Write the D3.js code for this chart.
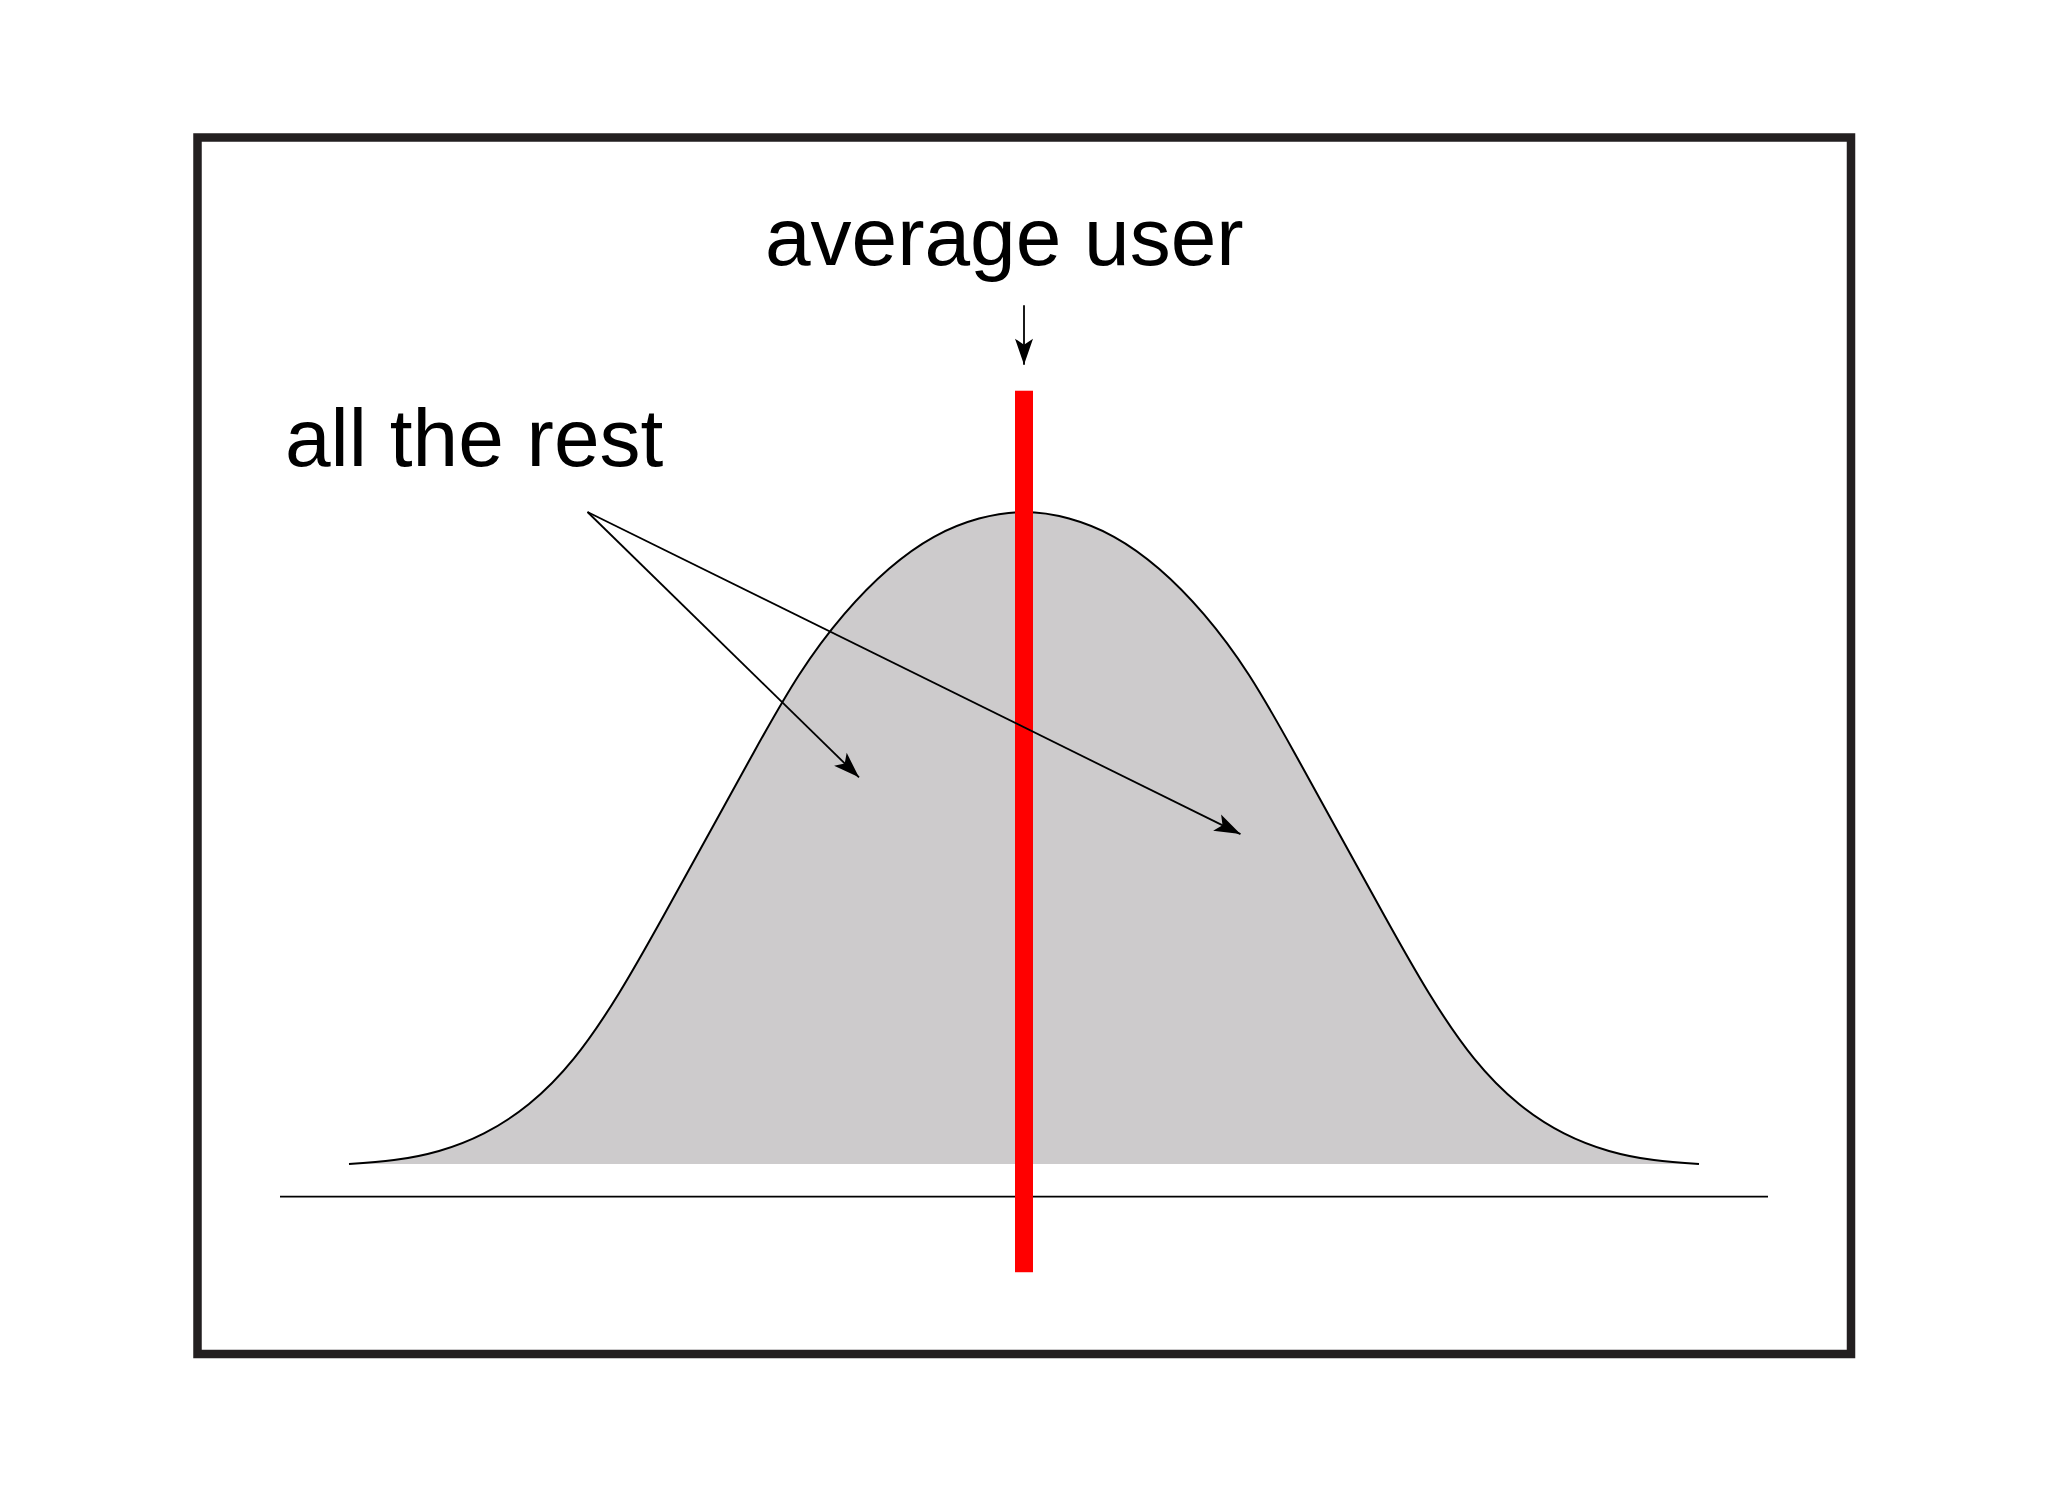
<!DOCTYPE html>
<html>
<head>
<meta charset="utf-8">
<script src="https://cdn.jsdelivr.net/npm/d3@7"></script>
<style>
  html, body { margin: 0; padding: 0; background: #ffffff; }
  svg { display: block; }
  text { font-family: "Liberation Sans", Arial, Helvetica, sans-serif; }
</style>
</head>
<body>
<svg id="chart" width="2048" height="1493"></svg>
<script>
// ---- data ----
const curveX = [-4.5, -4.2, -3.9, -3.6, -3.3, -3.0, -2.7, -2.4, -2.1, -1.8, -1.5, -1.2, -0.9, -0.6, -0.3, 0,
                 0.3, 0.6, 0.9, 1.2, 1.5, 1.8, 2.1, 2.4, 2.7, 3.0, 3.3, 3.6, 3.9, 4.2, 4.5];
const curveY = [0, 0.006, 0.020, 0.047, 0.092, 0.162, 0.262, 0.382, 0.507, 0.632, 0.75, 0.843, 0.913, 0.962, 0.99, 1.0,
                 0.99, 0.962, 0.913, 0.843, 0.75, 0.632, 0.507, 0.382, 0.262, 0.162, 0.092, 0.047, 0.020, 0.006, 0];
const averageX = 0;                 // position of the "average user" marker
const markerRange = [-0.166, 1.186]; // vertical extent of red bar in value units
const axisRange = [-4.96, 4.96];    // horizontal extent of the base line
const axisLevel = -0.05;            // base line level in value units
const labels = ["average user", "all the rest"];
// annotation anchors in data units
const avgArrow = {x: 0, y0: 1.317, y1: 1.226};
const restOrigin = {x: -2.91, y: 1.0};
const restTips = [{x: -1.10, y: 0.593}, {x: 1.443, y: 0.506}];

// ---- layout ----
const svg = d3.select("#chart");
const x = d3.scaleLinear().domain([-4.5, 4.5]).range([349, 1699]);
const y = d3.scaleLinear().domain([0, 1]).range([1164, 512]);

// frame
svg.append("rect")
  .attr("x", 197.5).attr("y", 137.5)
  .attr("width", 1851 - 197.5).attr("height", 1354 - 137.5)
  .attr("fill", "#ffffff").attr("stroke", "#231f20").attr("stroke-width", 8.5);

const pts = curveX.map((v, i) => [v, curveY[i]]);

// filled area
svg.append("path")
  .datum(pts)
  .attr("fill", "#cdcbcc")
  .attr("d", d3.area().x(d => x(d[0])).y0(y(0)).y1(d => y(d[1])).curve(d3.curveNatural));

// outline
svg.append("path")
  .datum(pts)
  .attr("fill", "none").attr("stroke", "#000").attr("stroke-width", 2)
  .attr("d", d3.line().x(d => x(d[0])).y(d => y(d[1])).curve(d3.curveNatural));

// base line
svg.append("line")
  .attr("x1", x(axisRange[0])).attr("x2", x(axisRange[1]))
  .attr("y1", y(axisLevel)).attr("y2", y(axisLevel))
  .attr("stroke", "#000").attr("stroke-width", 1.6);

// red bar
svg.append("rect")
  .attr("x", x(averageX) - 9).attr("width", 18)
  .attr("y", y(markerRange[1])).attr("height", y(markerRange[0]) - y(markerRange[1]))
  .attr("fill", "#ff0000");

// arrow marker
const defs = svg.append("defs");
defs.append("marker")
  .attr("id", "head").attr("markerUnits", "userSpaceOnUse")
  .attr("viewBox", "-28 -12 30 24").attr("refX", 0).attr("refY", 0)
  .attr("markerWidth", 30).attr("markerHeight", 24).attr("orient", "auto")
  .append("path").attr("d", "M0,0 L-26,-9 L-20,0 L-26,9 Z").attr("fill", "#000");

// average user arrow
svg.append("line")
  .attr("x1", x(avgArrow.x)).attr("x2", x(avgArrow.x))
  .attr("y1", y(avgArrow.y0)).attr("y2", y(avgArrow.y1))
  .attr("stroke", "#000").attr("stroke-width", 1.8)
  .attr("marker-end", "url(#head)");

// all the rest arrows
restTips.forEach(t => {
  svg.append("line")
    .attr("x1", x(restOrigin.x)).attr("y1", y(restOrigin.y))
    .attr("x2", x(t.x)).attr("y2", y(t.y))
    .attr("stroke", "#000").attr("stroke-width", 1.8)
    .attr("marker-end", "url(#head)");
});

// labels
svg.append("text")
  .attr("x", 765).attr("y", 265)
  .attr("font-size", 82).attr("fill", "#000")
  .text(labels[0]);
svg.append("text")
  .attr("x", 285).attr("y", 466)
  .attr("font-size", 82).attr("fill", "#000")
  .text(labels[1]);
</script>
</body>
</html>
